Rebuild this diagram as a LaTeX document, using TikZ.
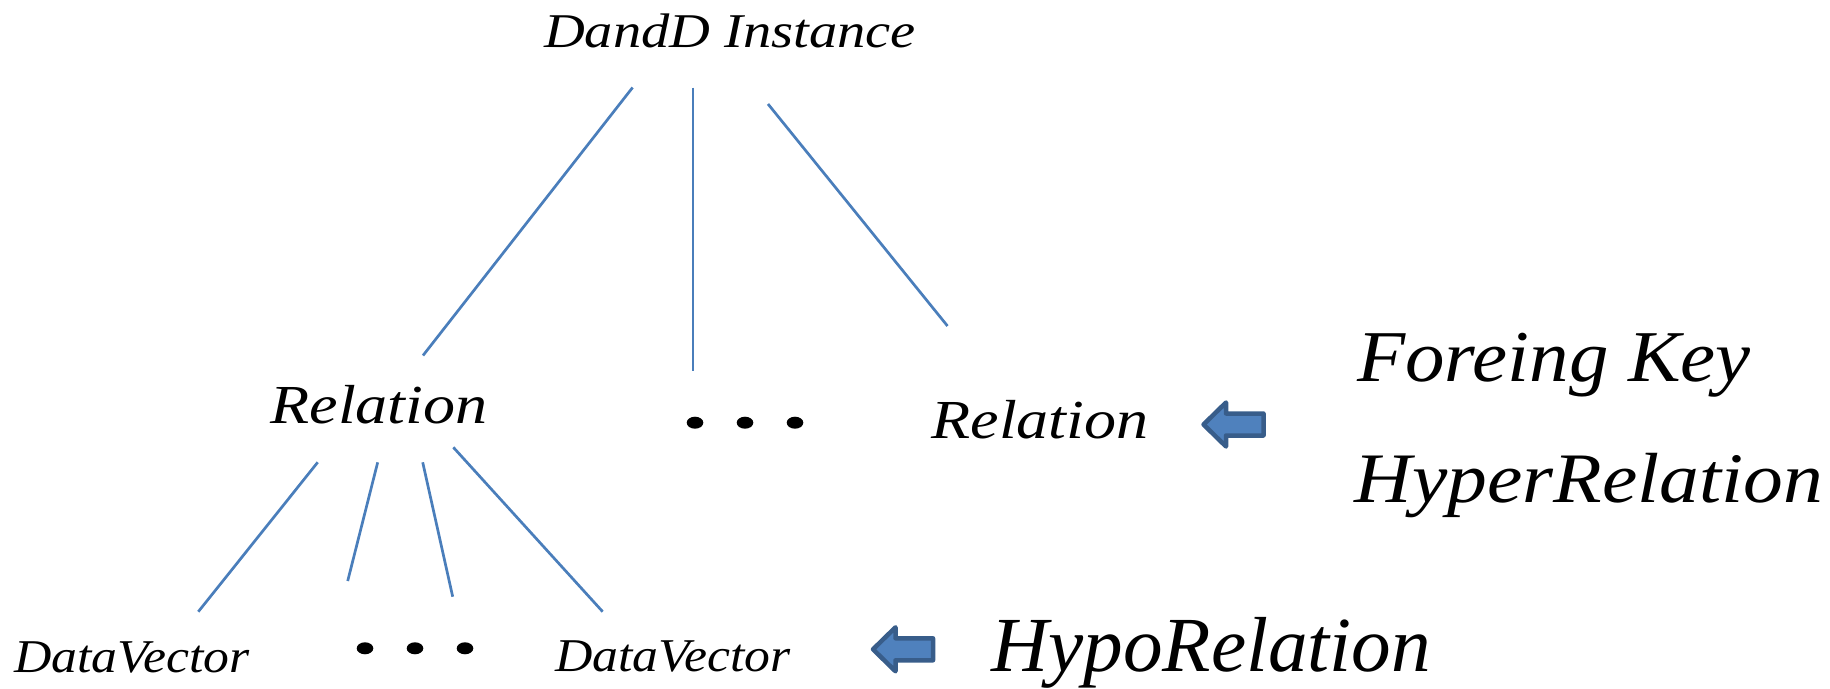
\documentclass[tikz,border=0pt]{standalone}
\usepackage{fontspec}
\setmainfont{Liberation Serif}
\usetikzlibrary{calc}

\definecolor{treeline}{HTML}{4A7EBB}
\definecolor{arrowfill}{HTML}{4F81BD}
\definecolor{arrowline}{HTML}{385D8A}

% horizontally widened text at a given font size
\newcommand\widetext[3]{{\fontsize{#1}{#1}\selectfont\itshape\scalebox{#2}[1]{#3}}}

\begin{document}
\begin{tikzpicture}[x=1pt,y=-1pt,
  lbl/.style={inner sep=0pt, outer sep=0pt, anchor=base},
  branch/.style={draw=treeline, line width=2.7pt},
  dotmark/.style={fill=black},
  arrowbox/.style={fill=arrowfill, draw=arrowline, line width=4.5pt, line join=round},
  blockarrow/.pic={
    \draw[arrowbox] (0,0) -- (22.5,-22) -- (22.5,-11) -- (60,-11)
      -- (60,11) -- (22.5,11) -- (22.5,22) -- cycle;
  }]
\useasboundingbox (0,0) rectangle (1830,688);

% tree labels
\node[lbl] (dd)   at (730,47)     {\widetext{48.5}{1.165}{DandD Instance}};
\node[lbl] (relL) at (379,423.3)  {\widetext{55}{1.165}{Relation}};
\node[lbl] (relR) at (1040,438)   {\widetext{55}{1.165}{Relation}};
\node[lbl] (dvL)  at (132,672.5)  {\widetext{47}{1.1}{DataVector}};
\node[lbl] (dvR)  at (673,671.7)  {\widetext{47}{1.1}{DataVector}};

% legend labels
\node[lbl] (fk)    at (1554,381.7)  {\widetext{73}{1.08}{Foreing Key}};
\node[lbl] (hyper) at (1589,502.7)  {\widetext{71}{1.12}{HyperRelation}};
\node[lbl] (hypo)  at (1211,671)    {\widetext{78}{1.015}{HypoRelation}};

% branch end points
\coordinate (t1a) at (632.6,87.5);  \coordinate (t1b) at (423,355.5);
\coordinate (t2a) at (693,87.5);    \coordinate (t2b) at (693,371);
\coordinate (t3a) at (768,104);     \coordinate (t3b) at (947.5,326);
\coordinate (b1a) at (317.7,462.3); \coordinate (b1b) at (198.3,611.7);
\coordinate (b2a) at (377.7,462.3); \coordinate (b2b) at (347.7,581);
\coordinate (b3a) at (422.7,462.3); \coordinate (b3b) at (452.7,596.7);
\coordinate (b4a) at (453.3,447.3); \coordinate (b4b) at (602.7,611.7);

\draw[branch] (t1a) -- (t1b);
\draw[branch] (t2a) -- (t2b);
\draw[branch] (t3a) -- (t3b);
\draw[branch] (b1a) -- (b1b);
\draw[branch] (b2a) -- (b2b);
\draw[branch] (b3a) -- (b3b);
\draw[branch] (b4a) -- (b4b);

% ellipsis dots
\foreach \px in {695,745,795}
  \fill[dotmark] (\px,422.7) ellipse [x radius=8.3, y radius=6];
\foreach \px in {365,415,465}
  \fill[dotmark] (\px,648.3) ellipse [x radius=8.3, y radius=6];

% block arrows pointing at the levels
\coordinate (arrTop) at (1203.5,424.5);
\coordinate (arrBot) at (873,649.3);
\pic at (arrTop) {blockarrow};
\pic at (arrBot) {blockarrow};
\end{tikzpicture}
\end{document}
